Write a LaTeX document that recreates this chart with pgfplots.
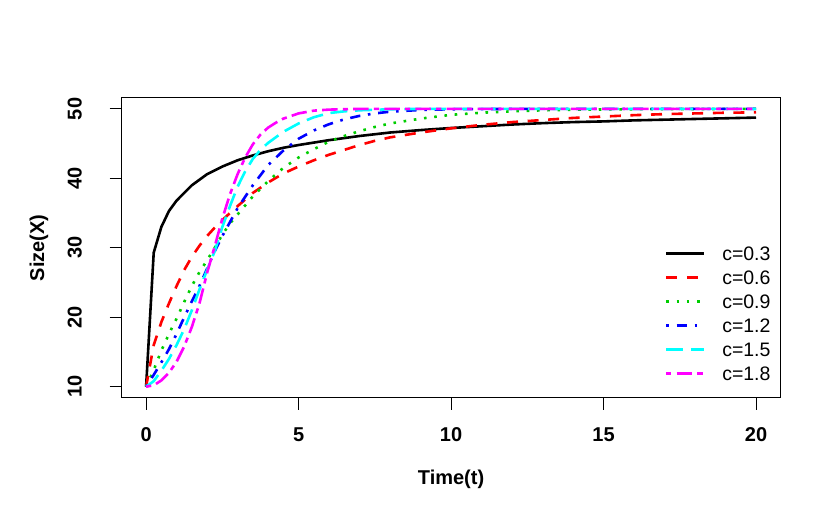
\documentclass[border=0pt]{standalone}
\usepackage{fontspec}
\setmainfont{Liberation Sans}
\usepackage{pgfplots}
\pgfplotsset{compat=1.18}
\definecolor{rgreen}{RGB}{0,205,0}
\definecolor{rblue}{RGB}{0,0,255}
\definecolor{rcyan}{RGB}{0,255,255}
\definecolor{rmag}{RGB}{255,0,255}
\definecolor{rred}{RGB}{255,0,0}
\begin{document}
\begin{tikzpicture}
\path[use as bounding box] (0,0) rectangle (830bp,520bp);
\begin{axis}[
  at={(121.7bp,122.2bp)}, anchor=south west,
  scale only axis, width=658.7bp, height=300bp,
  xmin=-0.8, xmax=20.8, ymin=8.4, ymax=51.6,
  xtick={0,5,10,15,20}, ytick={10,20,30,40,50},
  xtick pos=bottom, ytick pos=left,
  tick align=outside, major tick length=12bp,
  minor tick num=0,
  axis line style={line width=1bp},
  every tick/.style={line width=1bp, black},
  /pgf/number format/assume math mode=true,
  ticklabel style={font=\fontsize{20bp}{24bp}\selectfont\bfseries, inner sep=0pt},
  xticklabel style={anchor=north, yshift=-18bp},
  yticklabel style={rotate=90, anchor=south, yshift=27.7bp},
  xlabel={Time(t)}, ylabel={Size(X)},
  label style={font=\fontsize{20bp}{24bp}\selectfont\bfseries, inner sep=0pt},
  xlabel style={at={(rel axis cs:0.5,0)}, anchor=base, yshift=-86.5bp},
  ylabel style={at={(rel axis cs:0,0.5)}, anchor=base, yshift=77.5bp},
  legend style={draw=none, fill=none, at={(rel axis cs:1,0)}, anchor=south east,
    xshift=-9.7bp, yshift=16.8bp, inner sep=0pt, row sep=10bp,
    font=\fontsize{19.5bp}{23bp}\selectfont,
    nodes={inner sep=0pt, text height=14bp, text depth=0bp},
    /tikz/every odd column/.append style={column sep=17bp}},
  legend cell align=left,
  legend image code/.code={\draw[#1] (0bp,0bp) -- (37.7bp,0bp);},
  every axis plot/.append style={line width=2.6bp, line cap=butt, line join=round},
]
\addplot[black] coordinates {
(0,10) (0.25,29.3) (0.5,33.0) (0.75,35.3) (1,36.8) (1.25,37.9) (1.5,39.0) (2,40.6)
(2.5,41.7) (3,42.6) (3.5,43.3) (4,43.9) (4.5,44.4) (5,44.8) (6,45.5) (7,46.1)
(8,46.6) (9,46.95) (10,47.25) (11,47.5) (12,47.75) (13,47.95) (14,48.1) (15,48.2)
(16,48.35) (17,48.45) (18,48.55) (19,48.65) (20,48.75)};
\addlegendentry{c=0.3}
\addplot[rred, dash pattern=on 11bp off 9.6bp] coordinates {
(0,10) (0.25,16.0) (0.5,19.3) (0.75,22.0) (1,24.5) (1.25,26.8) (1.5,28.7) (1.75,30.3)
(2,31.7) (2.25,32.9) (2.5,34.0) (3,36.0) (3.5,37.9) (4,39.4) (4.5,40.7) (5,41.7)
(5.5,42.6) (6,43.4) (6.5,44.1) (7,44.8) (7.5,45.4) (8,45.9) (9,46.6) (10,47.2)
(11,47.7) (12,48.1) (13,48.4) (14,48.7) (15,48.9) (16,49.1) (17,49.25) (18,49.35)
(19,49.45) (20,49.5)};
\addlegendentry{c=0.6}
\addplot[rgreen, dash pattern=on 2.6bp off 7.7bp] coordinates {
(0,10) (0.25,12.4) (0.5,15.2) (0.75,17.6) (1,19.8) (1.25,22.2) (1.5,24.5) (1.75,26.5)
(2,28.2) (2.25,30.0) (2.5,31.9) (2.75,33.5) (3,34.8) (3.5,37.4) (4,39.6) (4.5,41.5)
(5,43.0) (5.5,44.2) (6,45.3) (6.5,46.1) (7,46.8) (7.5,47.4) (8,47.9) (9,48.6)
(10,49.15) (11,49.45) (12,49.65) (13,49.8) (14,49.88) (16,49.96) (18,49.99) (20,50)};
\addlegendentry{c=0.9}
\addplot[rblue, dash pattern=on 2.6bp off 7.7bp on 10.3bp off 7.7bp] coordinates {
(0,10) (0.25,11.7) (0.5,13.5) (0.75,15.4) (1,17.6) (1.25,20.0) (1.5,22.3) (1.75,24.5)
(2,27.0) (2.25,29.5) (2.5,31.7) (2.75,33.7) (3,35.7) (3.5,39.0) (4,41.9) (4.5,44.0)
(5,45.7) (5.5,46.9) (6,47.8) (6.5,48.5) (7,49.0) (7.5,49.35) (8,49.6) (9,49.85)
(10,49.95) (12,50) (20,50)};
\addlegendentry{c=1.2}
\addplot[rcyan, dash pattern=on 17bp off 7.7bp] coordinates {
(0,10) (0.25,10.8) (0.5,12.3) (0.75,14.0) (1,16.0) (1.25,18.3) (1.5,21.0) (1.75,24.0)
(2,26.8) (2.25,29.5) (2.5,33.0) (2.75,36.0) (3,38.8) (3.25,41.0) (3.5,42.8) (3.75,44.1)
(4,45.1) (4.5,46.7) (5,47.9) (5.5,48.8) (6,49.4) (6.5,49.65) (7,49.8) (8,49.95)
(9,50) (20,50)};
\addlegendentry{c=1.5}
\addplot[rmag, dash pattern=on 5.2bp off 5.2bp on 15.5bp off 5.2bp] coordinates {
(0,10) (0.25,10.2) (0.5,10.9) (0.75,12.0) (1,13.6) (1.25,15.8) (1.5,18.6) (1.75,22.0)
(2,26.4) (2.25,30.2) (2.5,34.2) (2.75,37.7) (3,40.6) (3.25,43.0) (3.5,44.9) (3.75,46.3)
(4,47.3) (4.25,48.0) (4.5,48.6) (5,49.35) (5.5,49.75) (6,49.9) (7,50) (20,50)};
\addlegendentry{c=1.8}
\end{axis}
\end{tikzpicture}
\end{document}
